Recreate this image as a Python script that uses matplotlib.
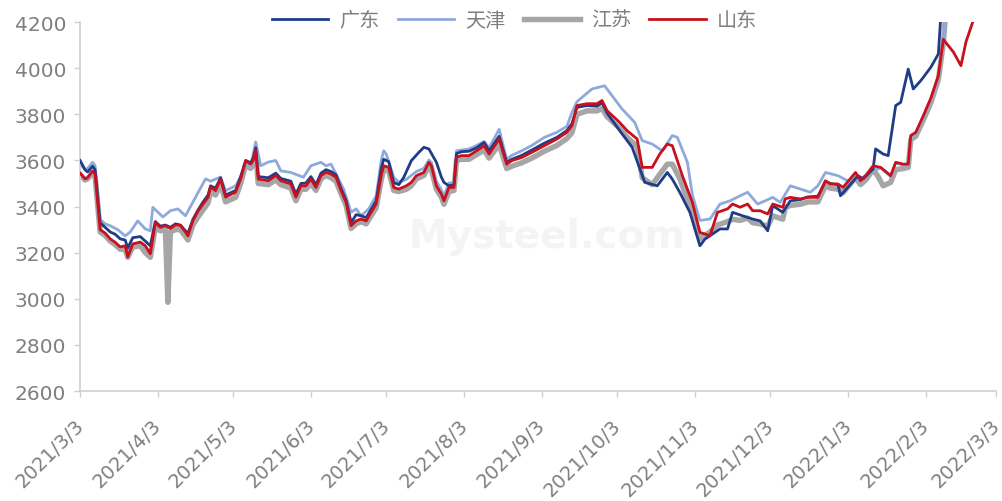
import matplotlib

matplotlib.use("Agg")
import matplotlib.pyplot as plt
import matplotlib.dates as mdates
import matplotlib.transforms as mtransforms
import pandas as pd

# 广东
gd_dates = [
    "2021-03-03", "2021-03-05", "2021-03-06", "2021-03-08", "2021-03-09", "2021-03-11", "2021-03-13",
    "2021-03-15", "2021-03-17", "2021-03-19", "2021-03-21", "2021-03-22", "2021-03-24", "2021-03-27",
    "2021-03-29", "2021-03-31", "2021-04-02", "2021-04-04", "2021-04-06", "2021-04-08", "2021-04-10",
    "2021-04-12", "2021-04-14", "2021-04-15", "2021-04-17", "2021-04-19", "2021-04-21", "2021-04-23",
    "2021-04-24", "2021-04-26", "2021-04-28", "2021-04-30", "2021-05-04", "2021-05-06", "2021-05-08",
    "2021-05-10", "2021-05-11", "2021-05-12", "2021-05-13", "2021-05-17", "2021-05-20", "2021-05-22",
    "2021-05-26", "2021-05-28", "2021-05-30", "2021-06-01", "2021-06-03", "2021-06-05", "2021-06-07",
    "2021-06-09", "2021-06-11", "2021-06-13", "2021-06-15", "2021-06-17", "2021-06-19", "2021-06-21",
    "2021-06-23", "2021-06-25", "2021-06-27", "2021-06-29", "2021-07-01", "2021-07-02", "2021-07-04",
    "2021-07-06", "2021-07-08", "2021-07-10", "2021-07-13", "2021-07-16", "2021-07-18", "2021-07-20",
    "2021-07-23", "2021-07-25", "2021-07-26", "2021-07-28", "2021-07-30", "2021-07-31", "2021-08-02",
    "2021-08-05", "2021-08-08", "2021-08-11", "2021-08-13", "2021-08-17", "2021-08-20", "2021-08-22",
    "2021-08-26", "2021-08-30", "2021-09-04", "2021-09-09", "2021-09-13", "2021-09-15", "2021-09-17",
    "2021-09-21", "2021-09-25", "2021-09-27", "2021-09-29", "2021-10-05", "2021-10-09", "2021-10-14",
    "2021-10-19", "2021-10-23", "2021-10-25", "2021-10-28", "2021-11-01", "2021-11-05", "2021-11-07",
    "2021-11-13", "2021-11-16", "2021-11-18", "2021-11-22", "2021-11-26", "2021-11-29", "2021-12-02",
    "2021-12-04", "2021-12-08", "2021-12-11", "2021-12-15", "2021-12-18", "2021-12-22", "2021-12-25",
    "2021-12-27", "2021-12-30", "2021-12-31", "2022-01-07", "2022-01-09", "2022-01-13", "2022-01-14",
    "2022-01-17", "2022-01-19", "2022-01-22", "2022-01-24", "2022-01-27", "2022-01-29", "2022-02-01",
    "2022-02-05", "2022-02-08", "2022-02-09",
]
gd_vals = [
    3600, 3560, 3550, 3575, 3560, 3330, 3310,
    3290, 3280, 3260, 3255, 3220, 3265, 3270,
    3250, 3230, 3335, 3315, 3320, 3310, 3325,
    3320, 3295, 3285, 3345, 3385, 3420, 3450,
    3490, 3480, 3525, 3450, 3470, 3530, 3600,
    3590, 3610, 3655, 3530, 3525, 3545, 3522,
    3510, 3455, 3500, 3502, 3530, 3495, 3545,
    3560, 3552, 3538, 3478, 3428, 3330, 3365,
    3360, 3352, 3388, 3425, 3565, 3605, 3595,
    3505, 3495, 3527, 3599, 3635, 3657, 3650,
    3592, 3527, 3505, 3490, 3495, 3630, 3638,
    3640, 3655, 3678, 3642, 3705, 3592, 3605,
    3622, 3645, 3675, 3700, 3730, 3760, 3830,
    3838, 3835, 3850, 3805, 3715, 3657, 3505,
    3490, 3548, 3519, 3461, 3375, 3230, 3259,
    3303, 3303, 3375, 3360, 3346, 3338, 3295,
    3404, 3375, 3425, 3430, 3442, 3445, 3510,
    3500, 3495, 3447, 3534, 3520, 3563, 3650,
    3628, 3621, 3838, 3852, 3996, 3910, 3946,
    4004, 4062, 4230,
]

# 天津
tj_dates = [
    "2021-03-03", "2021-03-05", "2021-03-06", "2021-03-08", "2021-03-09", "2021-03-11", "2021-03-13",
    "2021-03-15", "2021-03-18", "2021-03-21", "2021-03-23", "2021-03-26", "2021-03-29", "2021-03-31",
    "2021-04-01", "2021-04-05", "2021-04-08", "2021-04-11", "2021-04-14", "2021-04-17", "2021-04-22",
    "2021-04-24", "2021-04-28", "2021-04-30", "2021-05-04", "2021-05-08", "2021-05-10", "2021-05-12",
    "2021-05-14", "2021-05-17", "2021-05-20", "2021-05-22", "2021-05-26", "2021-05-31", "2021-06-03",
    "2021-06-07", "2021-06-09", "2021-06-11", "2021-06-13", "2021-06-16", "2021-06-19", "2021-06-21",
    "2021-06-23", "2021-06-26", "2021-06-29", "2021-07-01", "2021-07-02", "2021-07-03", "2021-07-06",
    "2021-07-08", "2021-07-11", "2021-07-13", "2021-07-15", "2021-07-18", "2021-07-20", "2021-07-21",
    "2021-07-23", "2021-07-25", "2021-07-26", "2021-07-28", "2021-07-30", "2021-07-31", "2021-08-02",
    "2021-08-05", "2021-08-08", "2021-08-11", "2021-08-13", "2021-08-17", "2021-08-20", "2021-08-22",
    "2021-08-26", "2021-08-30", "2021-09-04", "2021-09-09", "2021-09-13", "2021-09-15", "2021-09-17",
    "2021-09-23", "2021-09-28", "2021-09-30", "2021-10-05", "2021-10-10", "2021-10-13", "2021-10-17",
    "2021-10-21", "2021-10-25", "2021-10-27", "2021-10-31", "2021-11-02", "2021-11-05", "2021-11-09",
    "2021-11-13", "2021-11-17", "2021-11-21", "2021-11-24", "2021-11-28", "2021-12-01", "2021-12-04",
    "2021-12-07", "2021-12-11", "2021-12-15", "2021-12-19", "2021-12-22", "2021-12-25", "2021-12-30",
    "2022-01-04", "2022-01-08", "2022-01-12", "2022-01-16", "2022-01-20", "2022-01-22", "2022-01-25",
    "2022-01-27", "2022-01-28", "2022-01-30", "2022-02-02", "2022-02-05", "2022-02-08", "2022-02-10",
    "2022-02-11",
]
tj_vals = [
    3585, 3560, 3565, 3592, 3578, 3345, 3325,
    3317, 3300, 3273, 3290, 3338, 3303, 3295,
    3397, 3355, 3382, 3390, 3360, 3420, 3520,
    3510, 3528, 3469, 3490, 3570, 3577, 3680,
    3577, 3593, 3600, 3555, 3548, 3527, 3577,
    3592, 3577, 3584, 3541, 3476, 3375, 3390,
    3360, 3390, 3447, 3600, 3642, 3628, 3527,
    3505, 3518, 3535, 3552, 3566, 3602, 3592,
    3510, 3472, 3445, 3502, 3505, 3642, 3645,
    3650, 3665, 3682, 3655, 3735, 3605, 3622,
    3642, 3665, 3700, 3722, 3748, 3808, 3855,
    3910, 3924, 3895, 3823, 3765, 3686, 3671,
    3642, 3708, 3700, 3592, 3450, 3340, 3346,
    3411, 3425, 3447, 3462, 3411, 3425, 3440,
    3418, 3490, 3476, 3462, 3490, 3548, 3534,
    3505, 3520, 3550, 3568, 3530, 3588, 3580,
    3580, 3702, 3716, 3788, 3864, 3962, 4120,
    4250,
]

# 江苏
js_dates = [
    "2021-03-03", "2021-03-05", "2021-03-06", "2021-03-08", "2021-03-09", "2021-03-11", "2021-03-13",
    "2021-03-15", "2021-03-17", "2021-03-19", "2021-03-21", "2021-03-22", "2021-03-24", "2021-03-27",
    "2021-03-29", "2021-03-31", "2021-04-02", "2021-04-04", "2021-04-06", "2021-04-07", "2021-04-08",
    "2021-04-10", "2021-04-12", "2021-04-14", "2021-04-15", "2021-04-17", "2021-04-19", "2021-04-21",
    "2021-04-23", "2021-04-24", "2021-04-26", "2021-04-28", "2021-04-30", "2021-05-04", "2021-05-06",
    "2021-05-08", "2021-05-10", "2021-05-11", "2021-05-12", "2021-05-13", "2021-05-17", "2021-05-20",
    "2021-05-22", "2021-05-26", "2021-05-28", "2021-05-30", "2021-06-01", "2021-06-03", "2021-06-05",
    "2021-06-07", "2021-06-09", "2021-06-11", "2021-06-13", "2021-06-15", "2021-06-17", "2021-06-19",
    "2021-06-21", "2021-06-23", "2021-06-25", "2021-06-27", "2021-06-29", "2021-07-01", "2021-07-02",
    "2021-07-04", "2021-07-06", "2021-07-08", "2021-07-11", "2021-07-13", "2021-07-15", "2021-07-18",
    "2021-07-20", "2021-07-21", "2021-07-23", "2021-07-25", "2021-07-26", "2021-07-28", "2021-07-30",
    "2021-07-31", "2021-08-02", "2021-08-05", "2021-08-08", "2021-08-11", "2021-08-13", "2021-08-17",
    "2021-08-20", "2021-08-22", "2021-08-26", "2021-08-30", "2021-09-04", "2021-09-09", "2021-09-13",
    "2021-09-15", "2021-09-17", "2021-09-21", "2021-09-25", "2021-09-27", "2021-09-29", "2021-10-04",
    "2021-10-07", "2021-10-11", "2021-10-13", "2021-10-17", "2021-10-20", "2021-10-23", "2021-10-25",
    "2021-10-28", "2021-10-31", "2021-11-02", "2021-11-05", "2021-11-09", "2021-11-12", "2021-11-16",
    "2021-11-18", "2021-11-21", "2021-11-24", "2021-11-26", "2021-11-29", "2021-12-02", "2021-12-04",
    "2021-12-08", "2021-12-09", "2021-12-11", "2021-12-15", "2021-12-18", "2021-12-22", "2021-12-25",
    "2021-12-27", "2021-12-30", "2022-01-01", "2022-01-06", "2022-01-08", "2022-01-10", "2022-01-13",
    "2022-01-15", "2022-01-17", "2022-01-20", "2022-01-22", "2022-01-25", "2022-01-27", "2022-01-28",
    "2022-01-30", "2022-02-02", "2022-02-05", "2022-02-08", "2022-02-10", "2022-02-11",
]
js_vals = [
    3540, 3515, 3520, 3545, 3530, 3290, 3275,
    3250, 3235, 3215, 3215, 3180, 3225, 3230,
    3200, 3180, 3310, 3295, 3300, 2985, 3290,
    3300, 3300, 3270, 3255, 3320, 3355, 3385,
    3415, 3465, 3450, 3500, 3420, 3440, 3500,
    3580, 3565, 3585, 3625, 3500, 3495, 3515,
    3495, 3480, 3425, 3475, 3475, 3500, 3470,
    3520, 3535, 3525, 3510, 3455, 3405, 3305,
    3325, 3335, 3325, 3360, 3395, 3515, 3560,
    3555, 3470, 3465, 3475, 3490, 3520, 3535,
    3575, 3560, 3475, 3440, 3410, 3465, 3470,
    3600, 3605, 3605, 3625, 3645, 3610, 3670,
    3565, 3575, 3590, 3610, 3640, 3665, 3695,
    3720, 3800, 3815, 3815, 3825, 3790, 3740,
    3700, 3660, 3525, 3495, 3540, 3584, 3584,
    3520, 3430, 3380, 3260, 3290, 3320, 3335,
    3345, 3340, 3350, 3330, 3325, 3315, 3360,
    3345, 3395, 3405, 3410, 3420, 3420, 3490,
    3480, 3475, 3460, 3525, 3495, 3515, 3560,
    3530, 3490, 3505, 3560, 3565, 3570, 3690,
    3705, 3775, 3850, 3950, 4110, 4250,
]

# 山东
sd_dates = [
    "2021-03-03", "2021-03-05", "2021-03-06", "2021-03-08", "2021-03-09", "2021-03-11", "2021-03-13",
    "2021-03-15", "2021-03-17", "2021-03-19", "2021-03-21", "2021-03-22", "2021-03-24", "2021-03-27",
    "2021-03-29", "2021-03-31", "2021-04-02", "2021-04-04", "2021-04-06", "2021-04-08", "2021-04-10",
    "2021-04-12", "2021-04-14", "2021-04-15", "2021-04-17", "2021-04-19", "2021-04-21", "2021-04-23",
    "2021-04-24", "2021-04-26", "2021-04-28", "2021-04-30", "2021-05-04", "2021-05-06", "2021-05-08",
    "2021-05-10", "2021-05-11", "2021-05-12", "2021-05-13", "2021-05-17", "2021-05-20", "2021-05-22",
    "2021-05-26", "2021-05-28", "2021-05-30", "2021-06-01", "2021-06-03", "2021-06-05", "2021-06-07",
    "2021-06-09", "2021-06-11", "2021-06-13", "2021-06-15", "2021-06-17", "2021-06-19", "2021-06-21",
    "2021-06-23", "2021-06-25", "2021-06-27", "2021-06-29", "2021-07-01", "2021-07-02", "2021-07-04",
    "2021-07-06", "2021-07-08", "2021-07-11", "2021-07-13", "2021-07-15", "2021-07-18", "2021-07-20",
    "2021-07-21", "2021-07-23", "2021-07-25", "2021-07-26", "2021-07-28", "2021-07-30", "2021-07-31",
    "2021-08-02", "2021-08-05", "2021-08-08", "2021-08-11", "2021-08-13", "2021-08-17", "2021-08-20",
    "2021-08-22", "2021-08-26", "2021-08-30", "2021-09-04", "2021-09-09", "2021-09-13", "2021-09-15",
    "2021-09-17", "2021-09-21", "2021-09-25", "2021-09-27", "2021-09-29", "2021-10-04", "2021-10-07",
    "2021-10-11", "2021-10-13", "2021-10-17", "2021-10-20", "2021-10-23", "2021-10-25", "2021-10-29",
    "2021-11-02", "2021-11-05", "2021-11-09", "2021-11-12", "2021-11-16", "2021-11-18", "2021-11-21",
    "2021-11-24", "2021-11-26", "2021-11-29", "2021-12-02", "2021-12-04", "2021-12-08", "2021-12-09",
    "2021-12-11", "2021-12-15", "2021-12-18", "2021-12-22", "2021-12-25", "2021-12-27", "2021-12-30",
    "2022-01-01", "2022-01-06", "2022-01-08", "2022-01-10", "2022-01-13", "2022-01-16", "2022-01-20",
    "2022-01-22", "2022-01-25", "2022-01-27", "2022-01-28", "2022-01-30", "2022-02-02", "2022-02-05",
    "2022-02-08", "2022-02-10", "2022-02-14", "2022-02-17", "2022-02-19", "2022-02-22", "2022-02-24",
]
sd_vals = [
    3545, 3520, 3525, 3555, 3540, 3300, 3285,
    3260, 3245, 3225, 3230, 3181, 3238, 3246,
    3230, 3195, 3330, 3310, 3317, 3305, 3320,
    3318, 3290, 3273, 3340, 3380, 3411, 3440,
    3485, 3469, 3519, 3441, 3463, 3520, 3599,
    3584, 3600, 3645, 3519, 3512, 3535, 3512,
    3498, 3441, 3490, 3490, 3519, 3483, 3534,
    3549, 3541, 3527, 3469, 3418, 3317, 3338,
    3346, 3338, 3375, 3411, 3534, 3577, 3570,
    3483, 3476, 3490, 3505, 3534, 3548, 3592,
    3577, 3490, 3454, 3425, 3483, 3483, 3614,
    3621, 3621, 3642, 3664, 3628, 3693, 3584,
    3599, 3613, 3635, 3664, 3693, 3722, 3751,
    3838, 3846, 3846, 3860, 3816, 3765, 3729,
    3693, 3570, 3570, 3628, 3671, 3664, 3534,
    3418, 3288, 3274, 3375, 3390, 3411, 3397,
    3411, 3382, 3382, 3368, 3411, 3397, 3433,
    3440, 3433, 3440, 3440, 3512, 3498, 3498,
    3483, 3548, 3512, 3534, 3577, 3570, 3534,
    3592, 3584, 3584, 3708, 3722, 3794, 3870,
    3968, 4125, 4070, 4011, 4114, 4210, 4250,
]

tick_dates = [
    "2021-03-03", "2021-04-03", "2021-05-03", "2021-06-03", "2021-07-03", "2021-08-03", "2021-09-03",
    "2021-10-03", "2021-11-03", "2021-12-03", "2022-01-03", "2022-02-03", "2022-03-03",
]
y_ticks = list(range(2600, 4201, 200))

axis_grey = "#d0d0d0"
text_grey = "#7f7f7f"

fig = plt.figure(figsize=(10.03, 5.02), dpi=100)
ax = fig.add_axes([0.0798, 0.219, 0.9133, 0.735])

ax.text(0.51, 0.42, "Mysteel.com", transform=ax.transAxes, fontsize=28, fontweight="bold",
        color="#f4f4f4", ha="center", va="center", zorder=0)

ax.plot(pd.to_datetime(js_dates), js_vals, color="#a6a6a6", lw=3.9, label="江苏", zorder=1)
ax.plot(pd.to_datetime(tj_dates), tj_vals, color="#8eaadb", lw=2.0, label="天津", zorder=2)
ax.plot(pd.to_datetime(gd_dates), gd_vals, color="#1f3c88", lw=2.0, label="广东", zorder=3)
ax.plot(pd.to_datetime(sd_dates), sd_vals, color="#c9101c", lw=2.0, label="山东", zorder=4)

ax.set_xlim(pd.Timestamp("2021-03-03"), pd.Timestamp("2022-03-03"))
ax.set_ylim(2600, 4200)
ax.set_yticks(y_ticks)
ax.set_xticks(pd.to_datetime(tick_dates))
ax.xaxis.set_major_formatter(mdates.DateFormatter("%Y/%-m/%-d"))

for side in ["top", "right"]:
    ax.spines[side].set_visible(False)
for side in ["left", "bottom"]:
    ax.spines[side].set_color(axis_grey)
    ax.spines[side].set_linewidth(1.2)

ax.tick_params(axis="both", colors=axis_grey, labelcolor=text_grey, length=4.3, width=1)
ax.tick_params(axis="y", labelsize=14.5, pad=5.8)
ax.tick_params(axis="x", labelsize=14, pad=13)

# nudge the rotated date labels a little to the left so the last one stays inside
shift = mtransforms.ScaledTranslation(-6 / 100, 0, fig.dpi_scale_trans)
for lbl in ax.get_xticklabels():
    lbl.set_rotation(45)
    lbl.set_ha("right")
    lbl.set_va("top")
    lbl.set_rotation_mode("anchor")
    lbl.set_transform(lbl.get_transform() + shift)

handles, labels = ax.get_legend_handles_labels()
order = [labels.index(n) for n in ["广东", "天津", "江苏", "山东"]]
leg = fig.legend([handles[i] for i in order], [labels[i] for i in order], loc="center",
                 bbox_to_anchor=(0.513, 0.958), ncol=4, frameon=False, handlelength=2.8,
                 handletextpad=0.55, columnspacing=0.9,
                 prop={"family": ["Noto Sans CJK SC", "DejaVu Sans"], "size": 14.5})
for t in leg.get_texts():
    t.set_color(text_grey)

fig.savefig("out.png", dpi=100)
